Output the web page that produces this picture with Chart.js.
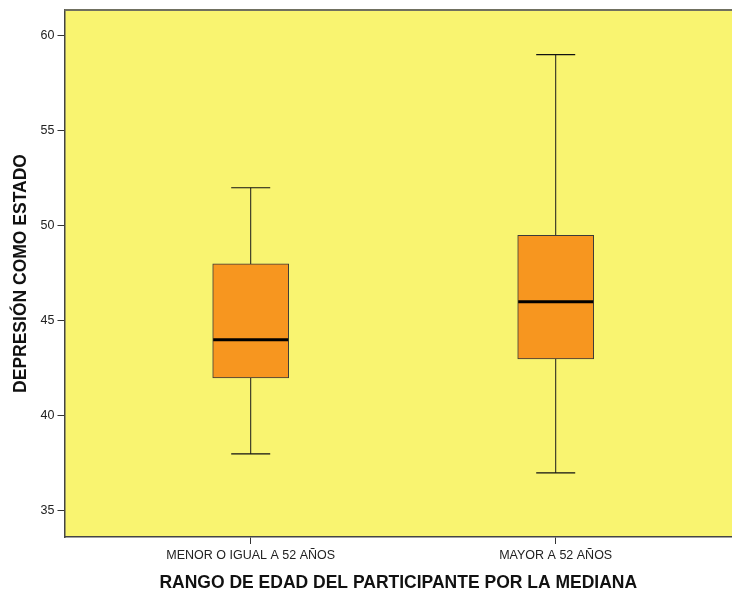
<!DOCTYPE html>
<html>
<head>
<meta charset="utf-8">
<script src="https://cdn.jsdelivr.net/npm/chart.js@4/dist/chart.umd.min.js"></script>
<style>
html,body{margin:0;padding:0;background:#fff;}
#wrap{width:732px;height:594px;}
</style>
</head>
<body>
<div id="wrap"><canvas id="c" width="732" height="594"></canvas></div>
<script>
const categories = ['MENOR O IGUAL A 52 AÑOS', 'MAYOR A 52 AÑOS'];
const whiskerLow = [38, 37];
const q1 = [42, 43];
const medians = [44, 46];
const q3 = [48, 49.5];
const whiskerHigh = [52, 59];
const yTicks = [35, 40, 45, 50, 55, 60];
const xPositions = [1, 2];

const FONT = "'Liberation Sans', Arial, sans-serif";

const datasets = [];
categories.forEach((c, i) => {
  datasets.push({
    type: 'line',
    data: [{x: xPositions[i], y: whiskerLow[i]}, {x: xPositions[i], y: whiskerHigh[i]}],
    borderColor: '#1a1a1a',
    borderWidth: 1,
    pointRadius: 0,
    order: 5
  });
});
datasets.push({
  type: 'bar',
  data: categories.map((c, i) => ({x: xPositions[i], y: [q1[i], q3[i]]})),
  backgroundColor: '#f7961f',
  borderColor: '#3a3a3a',
  borderWidth: 1,
  borderSkipped: false,
  barThickness: 76,
  order: 4
});
datasets.push({
  type: 'line',
  data: categories.flatMap((c, i) => [{x: xPositions[i], y: whiskerLow[i]}, {x: xPositions[i], y: whiskerHigh[i]}]),
  showLine: false,
  pointStyle: 'line',
  pointRadius: 19.5,
  pointBorderWidth: 1.2,
  pointBorderColor: '#111',
  order: 2
});
datasets.push({
  type: 'line',
  data: categories.map((c, i) => ({x: xPositions[i], y: medians[i]})),
  showLine: false,
  pointStyle: 'line',
  pointRadius: 37.5,
  pointBorderWidth: 3,
  pointBorderColor: '#000',
  order: 1
});

const bgPlugin = {
  id: 'bg',
  beforeDraw(chart) {
    const {ctx, chartArea: a} = chart;
    ctx.save();
    ctx.fillStyle = '#f9f470';
    ctx.fillRect(a.left, a.top, a.right - a.left, a.bottom - a.top);
    ctx.restore();
  },
  afterDraw(chart) {
    const {ctx, chartArea: a} = chart;
    ctx.save();
    ctx.strokeStyle = '#707060';
    ctx.lineWidth = 2;
    ctx.beginPath();
    ctx.moveTo(a.left, a.top);
    ctx.lineTo(a.right, a.top);
    ctx.stroke();
    ctx.restore();
  }
};

new Chart(document.getElementById('c'), {
  type: 'bar',
  data: {datasets},
  plugins: [bgPlugin],
  options: {
    responsive: false,
    animation: false,
    layout: {autoPadding: false, padding: {top: 10, right: 0, left: 0, bottom: 0}},
    plugins: {legend: {display: false}, tooltip: {enabled: false}},
    scales: {
      x: {
        type: 'linear',
        min: 0.3895,
        max: 2.578,
        offset: false,
        afterBuildTicks(scale) { scale.ticks = xPositions.map(v => ({value: v})); },
        afterFit(scale) { scale.height = 57; scale.paddingLeft = 0; scale.paddingRight = 0; },
        ticks: {
          callback: (v) => { const i = xPositions.indexOf(v); return i >= 0 ? categories[i] : ''; },
          font: {family: FONT, size: 12.5},
          color: '#222',
          padding: 4,
          maxRotation: 0,
          autoSkip: false
        },
        grid: {offset: false, drawOnChartArea: false, drawTicks: true, tickLength: 7, color: '#333'},
        border: {color: '#444', width: 1.5},
        title: {
          display: true,
          text: 'RANGO DE EDAD DEL PARTICIPANTE POR LA MEDIANA',
          font: {family: FONT, size: 17.5, weight: 'bold'},
          color: '#111',
          padding: {top: 4, bottom: 0}
        }
      },
      y: {
        type: 'linear',
        min: 33.63,
        max: 61.35,
        afterBuildTicks(scale) { scale.ticks = yTicks.map(v => ({value: v})); },
        afterFit(scale) { scale.width = 64.5; scale.paddingTop = 0; scale.paddingBottom = 0; },
        ticks: {
          font: {family: FONT, size: 12.5},
          color: '#222',
          padding: 3
        },
        grid: {drawOnChartArea: false, drawTicks: true, tickLength: 7, color: '#333'},
        border: {color: '#444', width: 1.5},
        title: {
          display: true,
          text: 'DEPRESIÓN COMO ESTADO',
          font: {family: FONT, size: 17.5, weight: 'bold'},
          color: '#111',
          padding: {top: 11, bottom: 0}
        }
      }
    }
  }
});
</script>
</body>
</html>
